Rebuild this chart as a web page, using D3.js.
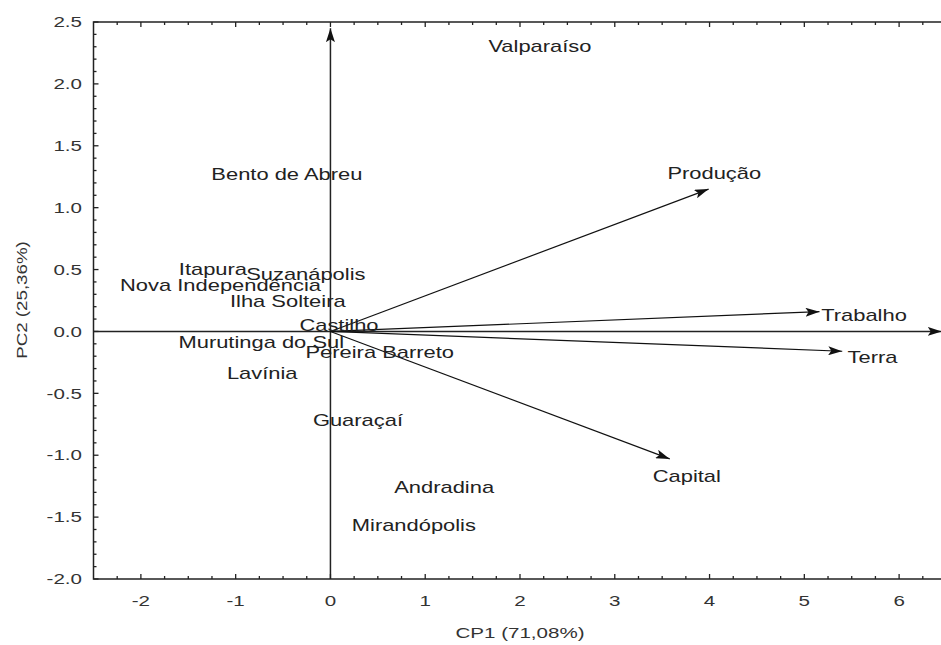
<!DOCTYPE html>
<html lang="pt">
<head>
<meta charset="utf-8">
<title>Biplot CP1 x PC2</title>
<script src="https://cdn.jsdelivr.net/npm/d3@7"></script>
<style>
  body { margin: 0; background: #fff; }
  svg text { font-family: "Liberation Sans", Arial, sans-serif; fill: #222; }
</style>
</head>
<body>
<svg id="chart"></svg>
<script>
// municipios (scores, posicao do rotulo)
var cities = ["Valparaíso", "Bento de Abreu", "Itapura", "Suzanápolis", "Nova Independência",
  "Ilha Solteira", "Castilho", "Murutinga do Sul", "Pereira Barreto", "Lavínia",
  "Guaraçaí", "Andradina", "Mirandópolis"];
var cityPC1 = [2.21, -0.46, -1.24, -0.26, -1.16, -0.45, 0.09, -0.73, 0.52, -0.72, 0.29, 1.20, 0.88];
var cityPC2 = [2.30, 1.27, 0.50, 0.46, 0.37, 0.24, 0.05, -0.09, -0.17, -0.34, -0.72, -1.26, -1.57];

// variaveis (ponta do vetor e rotulo)
var variables = ["Produção", "Trabalho", "Terra", "Capital"];
var varPC1 = [3.99, 5.16, 5.40, 3.58];
var varPC2 = [1.15, 0.16, -0.16, -1.03];
var varLabelPC1 = [4.05, 5.63, 5.72, 3.76];
var varLabelPC2 = [1.28, 0.13, -0.21, -1.17];

var xTicks = [-2, -1, 0, 1, 2, 3, 4, 5, 6];
var yTicks = [-2.0, -1.5, -1.0, -0.5, 0.0, 0.5, 1.0, 1.5, 2.0, 2.5];

var W = 941, H = 645;
var sx = 1.37; // the fonts in the original are wide

var svg = d3.select("#chart").attr("width", W).attr("height", H);

var x = d3.scaleLinear().domain([-2.5, 6.5]).range([93.5, 946.5]);
var y = d3.scaleLinear().domain([-2, 2.5]).range([579, 22]);

svg.append("defs").append("marker")
  .attr("id", "arrow")
  .attr("viewBox", "0 0 14 9")
  .attr("refX", 14).attr("refY", 4.5)
  .attr("markerWidth", 14).attr("markerHeight", 9)
  .attr("markerUnits", "userSpaceOnUse")
  .attr("orient", "auto")
  .append("path")
  .attr("d", "M0,0 L14,4.5 L0,9 L3,4.5 Z")
  .attr("fill", "#111");

function wideText(g, px, py, txt, anchor, size) {
  return g.append("text")
    .attr("transform", "translate(" + px + "," + py + ") scale(" + sx + ",1)")
    .attr("text-anchor", anchor)
    .attr("dy", "0.35em")
    .style("font-size", size + "px")
    .text(txt);
}

// frame
svg.append("rect")
  .attr("x", x(-2.5)).attr("y", y(2.5))
  .attr("width", x(6.5) - x(-2.5)).attr("height", y(-2) - y(2.5))
  .attr("fill", "none").attr("stroke", "#222").attr("stroke-width", 1.5);

// ticks
var xMinor = d3.range(-2.25, 6.5, 0.25).filter(function(v){ return Math.abs(v - Math.round(v)) > 1e-6; });
var yMinor = d3.range(-1.9, 2.5, 0.1).filter(function(v){ return Math.abs(v * 2 - Math.round(v * 2)) > 1e-6; });

var ticks = svg.append("g").attr("stroke", "#222").attr("stroke-width", 1.3);
xTicks.forEach(function(v){
  ticks.append("line").attr("x1", x(v)).attr("x2", x(v)).attr("y1", y(-2)).attr("y2", y(-2) - 5);
  ticks.append("line").attr("x1", x(v)).attr("x2", x(v)).attr("y1", y(2.5)).attr("y2", y(2.5) + 5);
});
xMinor.forEach(function(v){
  ticks.append("line").attr("x1", x(v)).attr("x2", x(v)).attr("y1", y(-2)).attr("y2", y(-2) - 3);
  ticks.append("line").attr("x1", x(v)).attr("x2", x(v)).attr("y1", y(2.5)).attr("y2", y(2.5) + 3);
});
yTicks.forEach(function(v){
  ticks.append("line").attr("x1", x(-2.5)).attr("x2", x(-2.5) + 5).attr("y1", y(v)).attr("y2", y(v));
});
yMinor.forEach(function(v){
  ticks.append("line").attr("x1", x(-2.5)).attr("x2", x(-2.5) + 3).attr("y1", y(v)).attr("y2", y(v));
});

// tick labels
var labels = svg.append("g").style("fill", "#333");
xTicks.forEach(function(v){
  wideText(labels, x(v), 601, String(v), "middle", 15).style("fill", "#333");
});
yTicks.forEach(function(v){
  wideText(labels, 82, y(v), v.toFixed(1), "end", 15).style("fill", "#333");
});

// axis titles
wideText(svg, 520, 633, "CP1 (71,08%)", "middle", 15).style("fill", "#333");
svg.append("text")
  .attr("transform", "translate(22,300) rotate(-90) scale(1.25,1)")
  .attr("text-anchor", "middle")
  .attr("dy", "0.35em")
  .style("font-size", "15px")
  .style("fill", "#333")
  .text("PC2 (25,36%)");

// axes through the origin
svg.append("line")
  .attr("x1", x(0)).attr("y1", y(-2)).attr("x2", x(0)).attr("y2", y(2.45))
  .attr("stroke", "#222").attr("stroke-width", 1.5).attr("marker-end", "url(#arrow)");
svg.append("line")
  .attr("x1", x(-2.5)).attr("y1", y(0)).attr("x2", x(6.45)).attr("y2", y(0))
  .attr("stroke", "#222").attr("stroke-width", 1.5).attr("marker-end", "url(#arrow)");

// variable vectors
svg.append("g").selectAll("line")
  .data(variables).enter().append("line")
  .attr("x1", x(0)).attr("y1", y(0))
  .attr("x2", function(d, i){ return x(varPC1[i]); })
  .attr("y2", function(d, i){ return y(varPC2[i]); })
  .attr("stroke", "#111").attr("stroke-width", 1.2)
  .attr("marker-end", "url(#arrow)");

var varG = svg.append("g");
variables.forEach(function(d, i){
  wideText(varG, x(varLabelPC1[i]), y(varLabelPC2[i]), d, "middle", 16);
});

// city labels
var cityG = svg.append("g");
cities.forEach(function(d, i){
  wideText(cityG, x(cityPC1[i]), y(cityPC2[i]), d, "middle", 16);
});
</script>
</body>
</html>
